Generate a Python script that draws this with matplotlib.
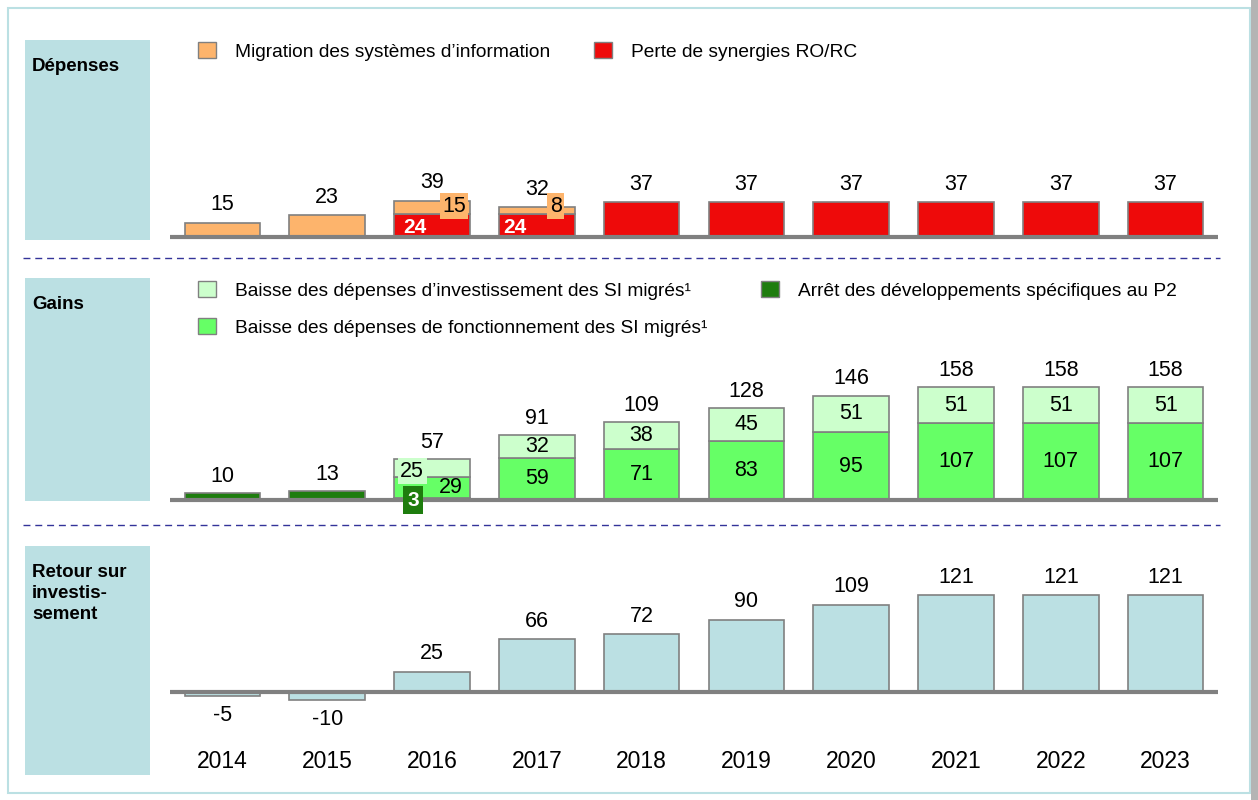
import matplotlib.pyplot as plt
from matplotlib.patches import Patch, Rectangle
from matplotlib.lines import Line2D
import numpy as np

plt.rcParams['font.family'] = ['Liberation Sans', 'DejaVu Sans']

W, H = 1258, 800

years = ['2014', '2015', '2016', '2017', '2018', '2019', '2020', '2021', '2022', '2023']

# Dépenses
migration_si = [15, 23, 15, 8, 0, 0, 0, 0, 0, 0]
perte_synergies = [0, 0, 24, 24, 37, 37, 37, 37, 37, 37]
depenses_total = [15, 23, 39, 32, 37, 37, 37, 37, 37, 37]

# Gains
arret_dev_p2 = [10, 13, 3, 0, 0, 0, 0, 0, 0, 0]
baisse_fonct = [0, 0, 29, 59, 71, 83, 95, 107, 107, 107]
baisse_invest = [0, 0, 25, 32, 38, 45, 51, 51, 51, 51]
gains_total = [10, 13, 57, 91, 109, 128, 146, 158, 158, 158]

# Retour sur investissement
roi = [-5, -10, 25, 66, 72, 90, 109, 121, 121, 121]

c_orange = '#FDB46C'
c_red = '#EE0A0A'
c_lgreen = '#CCFFCC'
c_green = '#66FF66'
c_dgreen = '#1E7D0E'
c_blue = '#BBE0E3'
c_edge = '#808080'

VAL_FS = 15.5
x = np.arange(len(years))
bw = 0.72


def fxy(px, py):
    return px / W, 1 - py / H


def make_axes(top, bottom, base, scale):
    ax = fig.add_axes([170 / W, 1 - bottom / H, (1218 - 170) / W, (bottom - top) / H])
    ax.set_xlim(-0.5, 9.5)
    ax.set_ylim(-(bottom - base) / scale, (base - top) / scale)
    ax.axis('off')
    ax.axhline(0, color=c_edge, lw=3, solid_capstyle='round', zorder=4)
    return ax


def stacked(ax, vals, bottoms, color):
    vals = np.array(vals)
    m = vals > 0
    ax.bar(x[m], vals[m], bw, bottom=np.array(bottoms)[m], color=color,
           edgecolor=c_edge, linewidth=1.2, zorder=2)


def top_labels(ax, totals, off=13):
    for i, v in enumerate(totals):
        ax.annotate(str(v), (i, v), xytext=(0, off if v >= 0 else -14), textcoords='offset points',
                    ha='center', va='center', fontsize=VAL_FS)


fig = plt.figure(figsize=(W / 100, H / 100), dpi=100)

# frame
fig.add_artist(Rectangle(fxy(8, 793), 1242 / W, 785 / H, transform=fig.transFigure,
                         facecolor='none', edgecolor=c_blue, lw=1.5))
fig.add_artist(Rectangle(fxy(1251, 800), 7 / W, 1, transform=fig.transFigure,
                         facecolor='#B4B4B4', edgecolor='none'))

# side label boxes
for top, bottom, label in [(40, 240, 'Dépenses'), (278, 501, 'Gains'),
                           (546, 775, 'Retour sur\ninvestis-\nsement')]:
    fig.text(*fxy(32, top + 18), label, ha='left', va='top', fontsize=13.5,
             fontweight='bold', linespacing=1.3)
    fig.add_artist(Rectangle(fxy(25, bottom), 125 / W, (bottom - top) / H,
                             transform=fig.transFigure, facecolor=c_blue, edgecolor='none',
                             zorder=-1))

# dashed separators
for py in [258, 525]:
    fig.add_artist(Line2D([23 / W, 1220 / W], [1 - py / H] * 2, transform=fig.transFigure,
                          color='#333399', lw=1, dashes=(5, 3.5)))

leg_kw = dict(loc='upper left', bbox_transform=fig.transFigure, frameon=False, fontsize=13.8,
              handlelength=0.94, handleheight=0.94, handletextpad=0.98,
              borderpad=0, borderaxespad=0, labelspacing=0.95)

# Dépenses
ax1 = make_axes(40, 246, 236.5, 0.92)
stacked(ax1, perte_synergies, [0] * 10, c_red)
stacked(ax1, migration_si, perte_synergies, c_orange)
top_labels(ax1, depenses_total)
for i, dx_red, dx_or in [(2, -0.16, 0.21), (3, -0.21, 0.18)]:
    ax1.text(i + dx_red, perte_synergies[i] / 2 - 2, str(perte_synergies[i]), ha='center',
             va='center', color='white', fontweight='bold', fontsize=15, zorder=5)
    ax1.text(i + dx_or, 33, str(migration_si[i]), ha='center', va='center', fontsize=VAL_FS,
             zorder=5, bbox=dict(boxstyle='square,pad=0.12', facecolor=c_orange, edgecolor='none'))
ax1.legend([Patch(facecolor=c_orange, edgecolor=c_edge), Patch(facecolor=c_red, edgecolor=c_edge)],
           ['Migration des systèmes d’information', 'Perte de synergies RO/RC'],
           ncol=2, bbox_to_anchor=fxy(198, 42), columnspacing=2.3, **leg_kw)

# Gains
ax2 = make_axes(278, 515, 500, 0.715)
b1 = np.array(arret_dev_p2)
b2 = b1 + np.array(baisse_fonct)
stacked(ax2, arret_dev_p2, [0] * 10, c_dgreen)
stacked(ax2, baisse_fonct, b1, c_green)
stacked(ax2, baisse_invest, b2, c_lgreen)
top_labels(ax2, gains_total, off=12)
for i in range(3, 10):
    ax2.text(i, b1[i] + baisse_fonct[i] / 2, str(baisse_fonct[i]), ha='center', va='center',
             fontsize=VAL_FS, zorder=5)
    ax2.text(i, b2[i] + baisse_invest[i] / 2, str(baisse_invest[i]), ha='center', va='center',
             fontsize=VAL_FS, zorder=5)
ax2.text(2 - 0.19, 40.5, str(baisse_invest[2]), ha='center', va='center', fontsize=VAL_FS, zorder=5,
         bbox=dict(boxstyle='square,pad=0.12', facecolor=c_lgreen, edgecolor='none'))
ax2.text(2 + 0.18, 16.8, str(baisse_fonct[2]), ha='center', va='center', fontsize=VAL_FS, zorder=5)
ax2.text(2 - 0.18, 0, str(arret_dev_p2[2]), ha='center', va='center', fontsize=15, zorder=6,
         color='white', fontweight='bold',
         bbox=dict(boxstyle='square,pad=0.2', facecolor=c_dgreen, edgecolor='none'))
ax2.legend([Patch(facecolor=c_lgreen, edgecolor=c_edge), Patch(facecolor=c_green, edgecolor=c_edge),
            Patch(facecolor=c_dgreen, edgecolor=c_edge)],
           ['Baisse des dépenses d’investissement des SI migrés¹',
            'Baisse des dépenses de fonctionnement des SI migrés¹',
            'Arrêt des développements spécifiques au P2'],
           ncol=2, bbox_to_anchor=fxy(198, 281), columnspacing=2.8, **leg_kw)

# Retour sur investissement
ax3 = make_axes(546, 775, 692, 0.8)
ax3.bar(x, roi, bw, color=c_blue, edgecolor=c_edge, linewidth=1.2, zorder=2)
top_labels(ax3, roi)
for i, yr in enumerate(years):
    ax3.text(i, 0.057, yr, transform=ax3.get_xaxis_transform(), ha='center', va='center',
             fontsize=16.5)

fig.savefig('out.png', dpi=100)
